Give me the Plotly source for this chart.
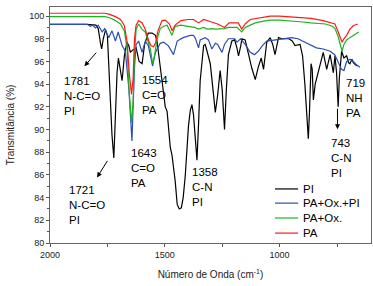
import plotly.graph_objects as go

# ---------------- data ----------------
wn_pi = [2000, 1840, 1800, 1790, 1780, 1775, 1768, 1758, 1750, 1740, 1730, 1722, 1715, 1708,
         1702, 1695, 1686, 1676, 1665, 1657, 1650, 1640, 1625, 1612, 1599, 1588, 1572, 1555,
         1541, 1534, 1520, 1505, 1498, 1490, 1476, 1469, 1455, 1446, 1437, 1428, 1420, 1411,
         1403, 1397, 1389, 1382, 1375, 1368, 1360, 1353, 1346, 1331, 1324, 1316, 1302, 1290,
         1280, 1270, 1259, 1250, 1240, 1232, 1223, 1208, 1196, 1186, 1179, 1170, 1164, 1150,
         1135, 1121, 1106, 1093, 1080, 1070, 1056, 1041, 1030, 1020, 1010, 1005, 990, 960,
         945, 933, 911, 900, 890, 880, 875, 870, 863, 858, 853, 845, 831, 820, 810, 795, 780,
         766, 759, 752, 745, 740, 730, 720, 708, 700, 694, 685, 679, 670, 660]
t_pi = [99.27, 99.27, 99.2, 98.9, 97.6, 97.1, 98.0, 98.8, 98.3, 94.0, 89.5, 87.5, 91.0, 95.0,
        96.3, 95.5, 94.3, 96.5, 97.7, 97.4, 96.8, 97.0, 97.2, 96.0, 95.8, 97.5, 98.5, 98.5,
        98.3, 97.8, 95.5, 92.8, 92.0, 91.6, 88.4, 87.8, 85.5, 83.4, 83.0, 83.1, 84.0, 85.9,
        88.5, 90.3, 91.7, 92.2, 91.3, 89.5, 87.3, 90.5, 94.3, 97.4, 97.5, 96.9, 95.8, 93.5,
        91.5, 93.0, 95.2, 93.5, 90.0, 93.5, 96.6, 97.8, 97.9, 97.2, 96.5, 97.3, 98.0, 97.9,
        96.5, 95.4, 94.4, 95.5, 96.3, 95.3, 97.7, 98.1, 97.5, 96.6, 97.6, 98.1, 98.0, 98.0,
        97.8, 97.4, 97.5, 96.5, 94.0, 90.0, 89.2, 91.5, 95.8, 95.3, 92.6, 94.0, 95.2, 96.0,
        96.8, 95.3, 96.6, 95.0, 96.5, 95.0, 92.0, 94.5, 96.9, 96.3, 96.5, 95.9, 95.8, 96.2,
        95.9, 95.7, 95.6]

wn_mix = [2000, 1838, 1824, 1815, 1802, 1790, 1773, 1762, 1744, 1730, 1715, 1703, 1686, 1672,
          1657, 1650, 1643, 1638, 1632, 1625, 1614, 1599, 1585, 1572, 1553, 1541, 1520, 1505,
          1485, 1462, 1446, 1420, 1389, 1375, 1366, 1353, 1346, 1324, 1310, 1295, 1280, 1270,
          1251, 1240, 1223, 1196, 1186, 1170, 1150, 1128, 1110, 1093, 1075, 1056, 1020, 976,
          947, 920, 890, 863, 840, 810, 780, 760, 745, 730, 720, 708, 694, 679, 665, 650]
t_mix = [99.27, 99.27, 99.1, 99.2, 98.95, 99.2, 98.6, 98.9, 98.1, 98.7, 97.8, 98.6, 97.4, 96.9,
         93.7, 91.0, 89.0, 92.0, 95.5, 97.5, 97.8, 96.8, 97.8, 97.4, 95.6, 96.8, 97.6, 97.7,
         97.4, 96.6, 97.8, 98.1, 98.3, 98.3, 98.0, 97.2, 97.9, 98.1, 97.9, 97.1, 97.6, 97.5,
         96.8, 97.5, 98.0, 98.0, 97.7, 98.0, 97.5, 96.8, 96.6, 96.9, 97.4, 97.8, 97.9, 98.0,
         98.1, 98.0, 97.7, 97.4, 97.2, 97.1, 96.9, 96.6, 96.0, 95.3, 95.2, 96.0, 96.2, 96.0,
         95.7, 95.5]

wn_paox = [2000, 1760, 1740, 1715, 1693, 1676, 1664, 1655, 1645, 1638, 1632, 1625, 1614, 1600,
           1585, 1572, 1563, 1553, 1545, 1534, 1520, 1505, 1490, 1476, 1469, 1455, 1430, 1400,
           1370, 1353, 1331, 1316, 1295, 1280, 1259, 1240, 1223, 1200, 1186, 1165, 1150, 1128,
           1106, 1070, 1041, 1000, 960, 911, 863, 831, 800, 770, 759, 745, 735, 728, 720, 708,
           694, 679, 665, 655]
t_paox = [99.95, 99.95, 99.85, 99.6, 99.3, 98.7, 97.1, 93.3, 90.6, 92.5, 96.6, 98.85, 99.3, 98.85,
          98.6, 97.8, 97.1, 95.8, 96.5, 97.9, 98.9, 99.1, 99.2, 98.6, 98.3, 99.1, 99.2, 99.1,
          99.0, 98.85, 99.0, 98.85, 98.9, 98.85, 98.85, 98.9, 99.0, 99.0, 99.0, 98.6, 99.0, 99.2,
          99.4, 99.55, 99.65, 99.65, 99.6, 99.5, 99.4, 99.35, 99.3, 99.1, 98.9, 98.2, 97.5, 96.9,
          97.5, 97.9, 98.1, 98.3, 98.5, 98.6]

wn_pa = [2000, 1760, 1740, 1715, 1693, 1676, 1664, 1655, 1645, 1638, 1632, 1625, 1614, 1599,
         1585, 1570, 1560, 1549, 1541, 1530, 1512, 1498, 1480, 1468, 1455, 1430, 1400, 1375,
         1353, 1331, 1300, 1270, 1240, 1220, 1196, 1180, 1165, 1150, 1128, 1093, 1041, 1000,
         960, 911, 863, 810, 770, 759, 745, 735, 728, 720, 708, 694, 679, 660]
t_pa = [100.25, 100.25, 100.15, 99.95, 99.7, 99.15, 97.7, 95.0, 93.1, 94.5, 98.0, 99.2, 99.6, 99.4,
        98.85, 97.8, 97.4, 97.3, 97.6, 98.7, 99.6, 99.65, 99.3, 98.7, 99.2, 99.6, 99.7, 99.7,
        99.4, 99.7, 99.5, 99.3, 99.0, 99.4, 99.4, 99.4, 98.85, 99.3, 99.7, 99.8, 100.0, 100.0,
        99.95, 99.85, 99.8, 99.6, 99.4, 99.3, 98.6, 98.0, 97.7, 98.0, 98.3, 98.85, 99.15, 99.3]

series_names = ["PI", "PA+Ox.+PI", "PA+Ox.", "PA"]
series_colors = ["#000000", "#2b4fb2", "#1fb41f", "#ff1a1a"]

x_ticks = [2000, 1500, 1000]
y_ticks = [80, 82, 84, 86, 88, 90, 92, 94, 96, 98, 100]

FONT = "Arial, Liberation Sans, sans-serif"

fig = go.Figure()
for name, wx, ty, col in zip(series_names, [wn_pi, wn_mix, wn_paox, wn_pa],
                             [t_pi, t_mix, t_paox, t_pa], series_colors):
    fig.add_trace(go.Scatter(x=wx, y=ty, mode="lines", name=name,
                             line=dict(color=col, width=1.2), showlegend=False))

# band labels
labels = [
    (1946, 94.96, "1781<br>N-C=O<br>PI"),
    (1925, 85.34, "1721<br>N-C=O<br>PI"),
    (1657, 88.6, "1643<br>C=O<br>PA"),
    (1610, 95.05, "1554<br>C=O<br>PA"),
    (1389, 86.93, "1358<br>C-N<br>PI"),
    (785, 89.49, "743<br>C-N<br>PI"),
    (720, 94.79, "719<br>NH<br>PA"),
]
for lx, ly, txt in labels:
    fig.add_annotation(x=lx, y=ly, text=txt, showarrow=False, xanchor="left", yanchor="top",
                       align="left", font=dict(family=FONT, size=11.5, color="#000"))

arrows = [((1850, 95.58), (1793, 96.91)),
          ((1795, 85.78), (1746, 87.37)),
          ((748, 90.02), (748, 91.96))]
for (hx, hy), (tx, ty) in arrows:
    fig.add_annotation(x=hx, y=hy, ax=tx, ay=ty, xref="x", yref="y", axref="x", ayref="y",
                       text="", showarrow=True, arrowhead=2, arrowsize=1, arrowwidth=1,
                       arrowcolor="#000")

# manual legend (compact rows like the reference)
leg_rows = [0.229, 0.169, 0.106, 0.042]
for name, col, yy in zip(series_names, series_colors, leg_rows):
    fig.add_shape(type="line", xref="paper", yref="paper", x0=0.701, x1=0.773, y0=yy, y1=yy,
                  line=dict(color=col, width=1.2))
    fig.add_annotation(xref="paper", yref="paper", x=0.782, y=yy, text=name, showarrow=False,
                       xanchor="left", yanchor="middle",
                       font=dict(family=FONT, size=11.5, color="#000"))

fig.update_layout(
    width=373, height=286,
    margin=dict(l=50, r=2, t=7, b=43, autoexpand=False),
    paper_bgcolor="white", plot_bgcolor="white",
    font=dict(family=FONT, size=9, color="#222"),
)
fig.update_xaxes(range=[2000, 602], tickvals=x_ticks, ticks="outside", ticklen=3,
                 tickcolor="#555", showline=True, linecolor="#666", linewidth=1, mirror=True,
                 showgrid=False, zeroline=False,
                 minor=dict(dtick=250, ticks="outside", ticklen=3, tickcolor="#555", showgrid=False),
                 tickfont=dict(size=9, color="#222"),
                 title=dict(text="Número de Onda (cm<sup>-1</sup>)", font=dict(size=10, color="#222"),
                            standoff=12))
fig.update_yaxes(range=[80, 100.8], tickvals=y_ticks, ticks="outside", ticklen=3,
                 tickcolor="#555", showline=True, linecolor="#666", linewidth=1, mirror=True,
                 showgrid=False, zeroline=False,
                 minor=dict(dtick=1, ticks="outside", ticklen=2, tickcolor="#555", showgrid=False),
                 tickfont=dict(size=9, color="#222"),
                 title=dict(text="Transmitância (%)", font=dict(size=10, color="#222"), standoff=12))

fig.write_html("out.html", config={"displayModeBar": False},
               post_script="document.body.style.margin='0';")
